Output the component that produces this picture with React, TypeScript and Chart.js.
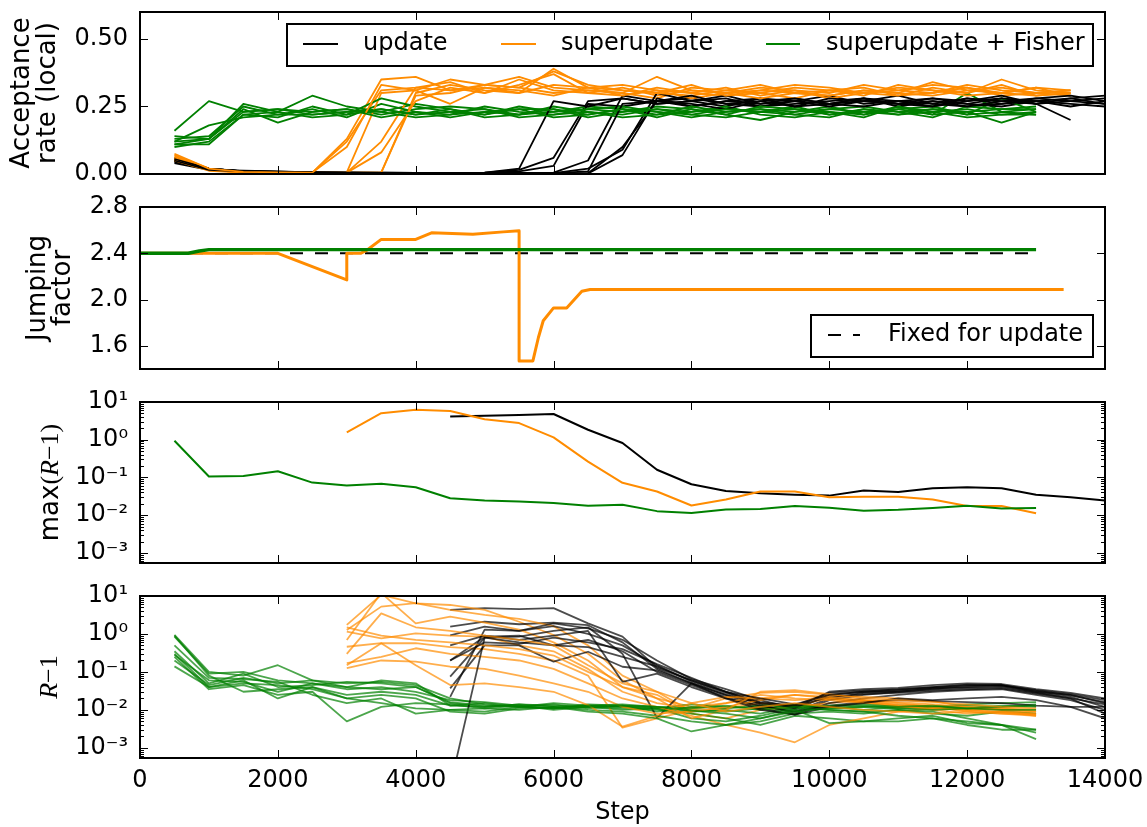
import React, { useEffect, useRef } from "react";
import { Chart, registerables } from "chart.js";

Chart.register(...registerables);

// ---------------- data ----------------
const STEPS = [500, 1000, 1500, 2000, 2500, 3000, 3500, 4000, 4500, 5000, 5500, 6000, 6500, 7000, 7500, 8000, 8500, 9000, 9500, 10000, 10500, 11000, 11500, 12000, 12500, 13000, 13500, 14000];
const X_TICKS = [0, 2000, 4000, 6000, 8000, 10000, 12000, 14000];
const ACC_TICKS = [0, 0.25, 0.5];
const JF_TICKS = [1.6, 2.0, 2.4, 2.8];
const LOG_TICKS = [0.001, 0.01, 0.1, 1, 10];

const SERIES_NAMES = ["update", "superupdate", "superupdate + Fisher"];
const FIXED_NAME = "Fixed for update";

// Panel 1: acceptance rate (local), per run, starting at step 500
const ACC_UPDATE_RUNS = [
  [0.05, 0.02, 0.01, 0.008, 0.006, 0.005, 0.005, 0.004, 0.004, 0.005, 0.015, 0.06, 0.27, 0.28, 0.26, 0.27, 0.25, 0.28, 0.27, 0.26, 0.28, 0.27, 0.25, 0.27, 0.28, 0.26, 0.27, 0.28],
  [0.04, 0.015, 0.012, 0.01, 0.006, 0.005, 0.004, 0.004, 0.003, 0.004, 0.01, 0.03, 0.26, 0.25, 0.27, 0.28, 0.26, 0.25, 0.27, 0.29, 0.26, 0.27, 0.28, 0.26, 0.25, 0.27, 0.26, 0.25],
  [0.06, 0.02, 0.01, 0.007, 0.005, 0.005, 0.004, 0.003, 0.003, 0.003, 0.004, 0.005, 0.05, 0.29, 0.27, 0.25, 0.27, 0.26, 0.28, 0.26, 0.25, 0.27, 0.26, 0.28, 0.27, 0.28, 0.27, 0.26],
  [0.05, 0.02, 0.01, 0.009, 0.006, 0.004, 0.004, 0.003, 0.003, 0.003, 0.003, 0.003, 0.02, 0.09, 0.30, 0.27, 0.28, 0.25, 0.26, 0.27, 0.28, 0.25, 0.27, 0.26, 0.28, 0.27, 0.25, 0.27],
  [0.045, 0.018, 0.01, 0.008, 0.005, 0.004, 0.004, 0.003, 0.003, 0.003, 0.002, 0.002, 0.003, 0.10, 0.27, 0.26, 0.24, 0.27, 0.28, 0.26, 0.27, 0.29, 0.26, 0.25, 0.26, 0.28, 0.29, 0.27],
  [0.05, 0.02, 0.011, 0.008, 0.006, 0.005, 0.004, 0.004, 0.003, 0.003, 0.003, 0.002, 0.002, 0.07, 0.28, 0.25, 0.27, 0.28, 0.25, 0.26, 0.28, 0.26, 0.28, 0.27, 0.29, 0.26, 0.20],
  [0.055, 0.02, 0.01, 0.008, 0.006, 0.005, 0.005, 0.004, 0.004, 0.005, 0.02, 0.27, 0.25, 0.28, 0.26, 0.27, 0.29, 0.26, 0.27, 0.25, 0.27, 0.26, 0.25, 0.28, 0.26, 0.27, 0.28, 0.29],
  [0.05, 0.015, 0.01, 0.007, 0.005, 0.004, 0.004, 0.003, 0.003, 0.003, 0.003, 0.003, 0.01, 0.26, 0.27, 0.29, 0.26, 0.27, 0.25, 0.28, 0.27, 0.26, 0.27, 0.25, 0.27, 0.26, 0.28, 0.26],
];
const ACC_SUPER_RUNS = [
  [0.07, 0.02, 0.008, 0.006, 0.005, 0.13, 0.35, 0.36, 0.31, 0.32, 0.30, 0.33, 0.32, 0.29, 0.31, 0.30, 0.32, 0.29, 0.31, 0.30, 0.33, 0.31, 0.30, 0.32, 0.29, 0.30, 0.31],
  [0.06, 0.015, 0.006, 0.005, 0.005, 0.12, 0.31, 0.32, 0.34, 0.30, 0.35, 0.31, 0.30, 0.32, 0.29, 0.31, 0.30, 0.32, 0.31, 0.28, 0.30, 0.32, 0.31, 0.30, 0.33, 0.29, 0.30],
  [0.065, 0.02, 0.007, 0.005, 0.004, 0.005, 0.12, 0.32, 0.31, 0.33, 0.36, 0.32, 0.31, 0.30, 0.28, 0.32, 0.31, 0.33, 0.30, 0.29, 0.31, 0.30, 0.34, 0.31, 0.30, 0.32, 0.29],
  [0.05, 0.015, 0.006, 0.004, 0.004, 0.004, 0.005, 0.30, 0.33, 0.31, 0.30, 0.39, 0.32, 0.31, 0.30, 0.29, 0.31, 0.30, 0.28, 0.31, 0.32, 0.29, 0.30, 0.33, 0.31, 0.30, 0.29],
  [0.06, 0.018, 0.007, 0.005, 0.005, 0.006, 0.30, 0.31, 0.26, 0.32, 0.31, 0.29, 0.32, 0.33, 0.31, 0.28, 0.30, 0.31, 0.33, 0.32, 0.30, 0.29, 0.32, 0.30, 0.35, 0.31, 0.30],
  [0.055, 0.015, 0.006, 0.005, 0.004, 0.005, 0.08, 0.27, 0.32, 0.30, 0.33, 0.37, 0.30, 0.29, 0.32, 0.30, 0.29, 0.31, 0.30, 0.31, 0.29, 0.33, 0.31, 0.29, 0.30, 0.32, 0.31],
  [0.05, 0.012, 0.005, 0.004, 0.004, 0.004, 0.006, 0.29, 0.30, 0.33, 0.32, 0.30, 0.31, 0.30, 0.36, 0.31, 0.30, 0.28, 0.30, 0.29, 0.31, 0.30, 0.29, 0.31, 0.32, 0.30, 0.31],
  [0.075, 0.02, 0.008, 0.006, 0.005, 0.10, 0.33, 0.31, 0.35, 0.33, 0.32, 0.38, 0.33, 0.31, 0.30, 0.33, 0.29, 0.30, 0.32, 0.31, 0.30, 0.31, 0.33, 0.32, 0.30, 0.29, 0.30],
];
const ACC_FISHER_RUNS = [
  [0.16, 0.27, 0.23, 0.24, 0.22, 0.23, 0.24, 0.22, 0.23, 0.24, 0.22, 0.23, 0.25, 0.24, 0.22, 0.23, 0.24, 0.23, 0.25, 0.22, 0.23, 0.24, 0.22, 0.30, 0.23, 0.24],
  [0.14, 0.13, 0.26, 0.23, 0.29, 0.25, 0.23, 0.26, 0.24, 0.22, 0.25, 0.23, 0.24, 0.25, 0.23, 0.21, 0.23, 0.24, 0.22, 0.24, 0.25, 0.23, 0.24, 0.22, 0.28, 0.23],
  [0.13, 0.14, 0.25, 0.22, 0.24, 0.21, 0.26, 0.23, 0.21, 0.23, 0.22, 0.25, 0.23, 0.22, 0.24, 0.23, 0.25, 0.22, 0.21, 0.23, 0.22, 0.25, 0.23, 0.24, 0.22, 0.22],
  [0.12, 0.13, 0.24, 0.19, 0.23, 0.24, 0.22, 0.24, 0.25, 0.24, 0.21, 0.22, 0.24, 0.23, 0.25, 0.24, 0.22, 0.20, 0.23, 0.24, 0.23, 0.22, 0.24, 0.23, 0.19, 0.23],
  [0.11, 0.11, 0.22, 0.23, 0.21, 0.22, 0.28, 0.25, 0.23, 0.22, 0.24, 0.24, 0.22, 0.24, 0.23, 0.22, 0.24, 0.23, 0.24, 0.22, 0.24, 0.23, 0.21, 0.25, 0.24, 0.24],
  [0.12, 0.18, 0.21, 0.22, 0.22, 0.23, 0.23, 0.21, 0.22, 0.25, 0.23, 0.22, 0.23, 0.21, 0.22, 0.25, 0.23, 0.24, 0.23, 0.25, 0.22, 0.24, 0.25, 0.22, 0.23, 0.22],
  [0.10, 0.12, 0.22, 0.21, 0.25, 0.22, 0.24, 0.22, 0.24, 0.21, 0.22, 0.24, 0.21, 0.23, 0.24, 0.22, 0.21, 0.23, 0.22, 0.21, 0.24, 0.22, 0.23, 0.21, 0.22, 0.23],
  [0.11, 0.13, 0.23, 0.24, 0.23, 0.24, 0.21, 0.23, 0.22, 0.23, 0.24, 0.21, 0.22, 0.24, 0.21, 0.24, 0.22, 0.25, 0.24, 0.23, 0.21, 0.25, 0.22, 0.23, 0.24, 0.25],
];

// Panel 2: jumping factor
const JF_FIXED_STEPS = [0, 13000];
const JF_FIXED_VALUES = [2.4, 2.4];
const JF_SUPER_STEPS = [0, 2000, 3000, 3000, 3200, 3300, 3500, 4000, 4230, 4830, 5270, 5500, 5500, 5700, 5780, 5850, 6000, 6190, 6410, 6530, 13400];
const JF_SUPER_VALUES = [2.4, 2.4, 2.17, 2.4, 2.4, 2.43, 2.52, 2.52, 2.577, 2.565, 2.585, 2.594, 1.47, 1.47, 1.672, 1.817, 1.928, 1.928, 2.072, 2.087, 2.087];
const JF_FISHER_STEPS = [0, 700, 860, 1000, 13000];
const JF_FISHER_VALUES = [2.4, 2.4, 2.42, 2.432, 2.432];

// Panel 3: max(R-1)
const MAXR_UPDATE = [4.1, 4.3, 4.5, 4.8, 1.84, 0.82, 0.16, 0.066, 0.044, 0.038, 0.035, 0.033, 0.045, 0.041, 0.052, 0.055, 0.052, 0.035, 0.03, 0.0246]; // from 4500
const MAXR_SUPER = [1.56, 5.06, 6.2, 5.8, 3.5, 2.76, 1.15, 0.263, 0.072, 0.0425, 0.0181, 0.026, 0.0425, 0.0425, 0.030, 0.031, 0.031, 0.026, 0.0174, 0.0174, 0.0112]; // from 3000
const MAXR_FISHER = [0.94, 0.106, 0.11, 0.146, 0.073, 0.061, 0.068, 0.055, 0.028, 0.0246, 0.023, 0.021, 0.0178, 0.0188, 0.0128, 0.0114, 0.0142, 0.0145, 0.0174, 0.0158, 0.0132, 0.0139, 0.0154, 0.0178, 0.0151, 0.0154]; // from 500

// Panel 4: R-1 per parameter
const R_UPDATE_RUNS = [
  [4.3, 4.8, 4.5, 4.8, 1.9, 0.85, 0.13, 0.06, 0.03, 0.015, 0.01, 0.025, 0.03, 0.035, 0.04, 0.045, 0.045, 0.03, 0.025, 0.015],
  [1.56, 2.1, 1.8, 2.0, 1.7, 0.6, 0.12, 0.05, 0.025, 0.012, 0.009, 0.02, 0.028, 0.032, 0.038, 0.04, 0.042, 0.03, 0.022, 0.012],
  [0.92, 1.56, 1.2, 1.6, 1.0, 0.5, 0.15, 0.055, 0.028, 0.014, 0.008, 0.018, 0.025, 0.03, 0.035, 0.038, 0.04, 0.028, 0.02, 0.014],
  [0.2, 0.85, 0.9, 0.5, 0.7, 0.35, 0.1, 0.045, 0.022, 0.011, 0.0075, 0.015, 0.02, 0.025, 0.03, 0.033, 0.035, 0.025, 0.018, 0.01],
  [0.075, 0.8, 0.85, 1.2, 1.5, 0.3, 0.0062, 0.05, 0.02, 0.013, 0.009, 0.013, 0.016, 0.018, 0.017, 0.016, 0.015, 0.013, 0.012, 0.012],
  [0.037, 0.5, 0.5, 0.186, 0.34, 0.137, 0.11, 0.05, 0.025, 0.015, 0.012, 0.022, 0.026, 0.028, 0.032, 0.035, 0.037, 0.027, 0.02, 0.008],
  [0.022, 1.3, 1.2, 1.9, 1.4, 0.7, 0.2, 0.065, 0.035, 0.018, 0.011, 0.03, 0.035, 0.038, 0.045, 0.05, 0.048, 0.035, 0.028, 0.02],
  [0.0001, 0.8, 0.6, 0.5, 0.45, 0.25, 0.14, 0.06, 0.03, 0.016, 0.013, 0.028, 0.032, 0.034, 0.04, 0.046, 0.044, 0.033, 0.026, 0.018],
  [0.5, 0.9, 0.7, 0.9, 1.2, 0.055, 0.09, 0.04, 0.02, 0.01, 0.0075, 0.012, 0.015, 0.02, 0.018, 0.02, 0.022, 0.018, 0.012, 0.006],
  [0.2, 0.6, 0.55, 0.8, 0.6, 0.4, 0.16, 0.07, 0.03, 0.02, 0.014, 0.025, 0.03, 0.03, 0.036, 0.042, 0.045, 0.032, 0.024, 0.016],
];
const R_SUPER_RUNS = [
  [1.73, 10.7, 6.4, 5.8, 4.3, 2.1, 0.94, 0.3, 0.06, 0.02, 0.012, 0.015, 0.02, 0.025, 0.02, 0.018, 0.015, 0.012, 0.01, 0.011, 0.009],
  [1.27, 5.25, 6.5, 4.3, 3.2, 2.5, 1.6, 0.5, 0.08, 0.03, 0.009, 0.011, 0.015, 0.013, 0.02, 0.016, 0.014, 0.013, 0.011, 0.01, 0.008],
  [0.69, 12, 1.9, 2.86, 2.0, 1.3, 0.6, 0.2, 0.04, 0.025, 0.008, 0.006, 0.01, 0.012, 0.015, 0.018, 0.013, 0.012, 0.009, 0.008, 0.007],
  [1.15, 0.77, 1.04, 0.9, 0.85, 0.5, 0.35, 0.12, 0.03, 0.015, 0.011, 0.02, 0.028, 0.03, 0.025, 0.022, 0.02, 0.017, 0.012, 0.01, 0.009],
  [0.46, 0.57, 0.57, 0.45, 0.4, 0.3, 0.2, 0.08, 0.0034, 0.006, 0.01, 0.015, 0.025, 0.02, 0.018, 0.015, 0.013, 0.01, 0.008, 0.009, 0.008],
  [0.17, 0.25, 0.42, 0.3, 0.25, 0.2, 0.12, 0.05, 0.02, 0.012, 0.007, 0.004, 0.0025, 0.0014, 0.004, 0.006, 0.009, 0.011, 0.01, 0.009, 0.007],
  [0.125, 0.2, 0.186, 0.137, 0.12, 0.08, 0.05, 0.03, 0.012, 0.008, 0.009, 0.012, 0.018, 0.025, 0.022, 0.018, 0.016, 0.014, 0.012, 0.011, 0.010],
  [0.15, 0.57, 0.15, 0.045, 0.05, 0.04, 0.03, 0.0134, 0.0036, 0.007, 0.015, 0.022, 0.02, 0.018, 0.02, 0.016, 0.012, 0.011, 0.01, 0.0085, 0.0075],
  [1.5, 0.9, 0.7, 0.6, 0.5, 0.4, 0.27, 0.1, 0.04, 0.02, 0.006, 0.01, 0.03, 0.033, 0.026, 0.02, 0.018, 0.016, 0.014, 0.012, 0.011],
  [0.3, 3.5, 1.5, 1.2, 0.9, 0.7, 0.5, 0.15, 0.05, 0.03, 0.015, 0.009, 0.012, 0.015, 0.012, 0.01, 0.009, 0.008, 0.009, 0.008, 0.0075],
];
const R_FISHER_RUNS = [
  [0.94, 0.10, 0.08, 0.15, 0.06, 0.05, 0.055, 0.045, 0.02, 0.014, 0.012, 0.015, 0.013, 0.012, 0.011, 0.014, 0.012, 0.011, 0.013, 0.012, 0.010, 0.012, 0.011, 0.013, 0.012, 0.014],
  [0.85, 0.09, 0.1, 0.06, 0.05, 0.035, 0.04, 0.03, 0.018, 0.016, 0.013, 0.011, 0.014, 0.013, 0.012, 0.010, 0.009, 0.011, 0.013, 0.011, 0.012, 0.013, 0.012, 0.011, 0.013, 0.012],
  [0.35, 0.05, 0.09, 0.04, 0.045, 0.055, 0.05, 0.04, 0.015, 0.012, 0.014, 0.013, 0.012, 0.010, 0.011, 0.009, 0.010, 0.008, 0.012, 0.010, 0.009, 0.010, 0.008, 0.007, 0.009, 0.008],
  [0.30, 0.04, 0.06, 0.02, 0.04, 0.025, 0.03, 0.025, 0.013, 0.015, 0.012, 0.014, 0.011, 0.013, 0.009, 0.012, 0.011, 0.013, 0.014, 0.012, 0.013, 0.011, 0.012, 0.014, 0.015, 0.016],
  [0.25, 0.035, 0.045, 0.025, 0.03, 0.005, 0.012, 0.015, 0.014, 0.011, 0.013, 0.010, 0.012, 0.011, 0.010, 0.008, 0.006, 0.004, 0.007, 0.006, 0.005, 0.005, 0.006, 0.004, 0.003, 0.003],
  [0.20, 0.045, 0.07, 0.05, 0.06, 0.04, 0.06, 0.05, 0.013, 0.012, 0.014, 0.012, 0.013, 0.012, 0.011, 0.006, 0.005, 0.007, 0.011, 0.010, 0.009, 0.007, 0.006, 0.005, 0.004, 0.0025],
  [0.14, 0.04, 0.05, 0.045, 0.035, 0.02, 0.025, 0.02, 0.009, 0.008, 0.011, 0.012, 0.010, 0.009, 0.007, 0.005, 0.004, 0.005, 0.008, 0.009, 0.008, 0.010, 0.009, 0.006, 0.004, 0.0017],
  [0.28, 0.06, 0.055, 0.03, 0.05, 0.04, 0.035, 0.04, 0.016, 0.013, 0.012, 0.011, 0.013, 0.014, 0.012, 0.011, 0.013, 0.010, 0.012, 0.013, 0.014, 0.012, 0.013, 0.011, 0.012, 0.013],
  [0.9, 0.08, 0.03, 0.035, 0.04, 0.02, 0.015, 0.011, 0.01, 0.009, 0.012, 0.011, 0.012, 0.013, 0.012, 0.0095, 0.008, 0.006, 0.009, 0.011, 0.012, 0.011, 0.010, 0.011, 0.010, 0.010],
  [0.5, 0.07, 0.065, 0.055, 0.025, 0.015, 0.02, 0.008, 0.01, 0.011, 0.01, 0.012, 0.009, 0.008, 0.006, 0.0027, 0.004, 0.006, 0.01, 0.0045, 0.005, 0.006, 0.007, 0.0045, 0.004, 0.003],
];

// ---------------- styling ----------------
const SANS = "'DejaVu Sans', 'Bitstream Vera Sans', sans-serif";
const SERIF = "'Liberation Serif', 'DejaVu Serif', serif";
const FS = 24; // tick labels and legend
const FL = 26; // axis labels
const BLACK = "#000000";
const ORANGE = "#ff8c00";
const GREEN = "#008000";
const BLACK_A = "rgba(0,0,0,0.7)";
const ORANGE_A = "rgba(255,140,0,0.7)";
const GREEN_A = "rgba(0,128,0,0.7)";

const PANELS = [
  { top: 12, bottom: 174 },
  { top: 207, bottom: 369 },
  { top: 402, bottom: 563 },
  { top: 596, bottom: 758 },
];
const PLOT_LEFT = 140;
const PLOT_RIGHT = 1105;
const W = 1147;
const H = 827;

function series(start: number, values: number[]) {
  const i0 = STEPS.indexOf(start);
  return values.map((v, i) => ({ x: STEPS[i0 + i], y: v }));
}
function xy(xs: number[], ys: number[]) {
  return xs.map((x, i) => ({ x, y: ys[i] }));
}
function ds(data: any[], color: string, width: number, extra: any = {}) {
  return {
    data,
    borderColor: color,
    backgroundColor: color,
    borderWidth: width,
    pointRadius: 0,
    pointHoverRadius: 0,
    fill: false,
    tension: 0,
    borderJoinStyle: "round",
    borderCapStyle: "butt",
    ...extra,
  };
}
function withOrder(list: any[]) {
  return list.map((d, k) => ({ ...d, order: -k }));
}

const SUP: Record<string, string> = { "-": "\u207B", "0": "\u2070", "1": "\u00B9", "2": "\u00B2", "3": "\u00B3", "4": "\u2074" };
function logLabel(v: number) {
  const e = Math.round(Math.log10(v));
  return "10" + String(e).split("").map((c) => SUP[c]).join("");
}

// ---------------- plugins ----------------
function framePlugin(logY: boolean) {
  return {
    id: "frame",
    afterDatasetsDraw(chart: any) {
      const { ctx, chartArea: a } = chart;
      const xs = chart.scales.x;
      const ys = chart.scales.y;
      ctx.save();
      ctx.strokeStyle = "#000";
      ctx.lineWidth = 1;
      ctx.beginPath();
      const L = 8;
      const M = 4;
      for (const t of xs.ticks) {
        const p = Math.round(xs.getPixelForValue(t.value)) + 0.5;
        ctx.moveTo(p, a.bottom);
        ctx.lineTo(p, a.bottom - L);
        ctx.moveTo(p, a.top);
        ctx.lineTo(p, a.top + L);
      }
      for (const t of ys.ticks) {
        const p = Math.round(ys.getPixelForValue(t.value)) + 0.5;
        ctx.moveTo(a.left, p);
        ctx.lineTo(a.left + L, p);
        ctx.moveTo(a.right, p);
        ctx.lineTo(a.right - L, p);
      }
      if (logY) {
        for (let e = -4; e <= 1; e++) {
          for (let m = 2; m <= 9; m++) {
            const v = m * Math.pow(10, e);
            if (v < ys.min || v > ys.max) continue;
            const p = Math.round(ys.getPixelForValue(v)) + 0.5;
            ctx.moveTo(a.left, p);
            ctx.lineTo(a.left + M, p);
            ctx.moveTo(a.right, p);
            ctx.lineTo(a.right - M, p);
          }
        }
      }
      ctx.stroke();
      ctx.lineWidth = 2;
      ctx.strokeRect(a.left, a.top, a.right - a.left, a.bottom - a.top);
      ctx.restore();
    },
  };
}

type Seg = { t: string; f: string };
function ylabelPlugin(lines: { x: number; segs: Seg[] }[]) {
  return {
    id: "ylab",
    afterDraw(chart: any) {
      const { ctx, chartArea: a } = chart;
      const cy = (a.top + a.bottom) / 2;
      ctx.save();
      ctx.fillStyle = "#000";
      ctx.textBaseline = "alphabetic";
      ctx.textAlign = "left";
      for (const line of lines) {
        let total = 0;
        for (const s of line.segs) {
          ctx.font = s.f;
          total += ctx.measureText(s.t).width;
        }
        ctx.save();
        ctx.translate(line.x, cy);
        ctx.rotate(-Math.PI / 2);
        let x = -total / 2;
        for (const s of line.segs) {
          ctx.font = s.f;
          ctx.fillText(s.t, x, 0);
          x += ctx.measureText(s.t).width;
        }
        ctx.restore();
      }
      ctx.restore();
    },
  };
}

type LegItem = { x1: number; x2: number; color: string; dash?: number[]; width: number; text: string; tx: number };
function legendPlugin(box: { x1: number; y1: number; x2: number; y2: number }, y: number, items: LegItem[]) {
  return {
    id: "leg",
    afterDraw(chart: any) {
      const { ctx } = chart;
      ctx.save();
      ctx.fillStyle = "#fff";
      ctx.fillRect(box.x1, box.y1, box.x2 - box.x1, box.y2 - box.y1);
      ctx.strokeStyle = "#000";
      ctx.lineWidth = 2;
      ctx.strokeRect(box.x1, box.y1, box.x2 - box.x1, box.y2 - box.y1);
      for (const it of items) {
        ctx.beginPath();
        ctx.strokeStyle = it.color;
        ctx.lineWidth = it.width;
        ctx.setLineDash(it.dash || []);
        ctx.moveTo(it.x1, y);
        ctx.lineTo(it.x2, y);
        ctx.stroke();
        ctx.setLineDash([]);
        ctx.fillStyle = "#000";
        ctx.font = `${FS}px ${SANS}`;
        ctx.textBaseline = "middle";
        ctx.textAlign = "left";
        ctx.fillText(it.text, it.tx, y);
      }
      ctx.restore();
    },
  };
}

// ---------------- scales ----------------
function xScale(showLabels: boolean) {
  return {
    type: "linear",
    min: 0,
    max: 14000,
    afterBuildTicks: (s: any) => {
      s.ticks = X_TICKS.map((v) => ({ value: v }));
    },
    afterFit: (s: any) => {
      s.height = showLabels ? H - PANELS[3].bottom : 12;
      s.paddingLeft = 0;
      s.paddingRight = 0;
    },
    grid: { display: false, drawTicks: false },
    border: { display: false },
    ticks: {
      display: showLabels,
      autoSkip: false,
      maxRotation: 0,
      padding: 8,
      color: "#000",
      font: { family: SANS, size: FS },
      callback: (v: any) => String(v),
    },
    title: {
      display: showLabels,
      text: "Step",
      color: "#000",
      font: { family: SANS, size: FS },
      padding: { top: 0, bottom: 0 },
    },
  };
}
function yScale(kind: "acc" | "jf" | "log") {
  const base: any = {
    afterFit: (s: any) => {
      s.width = PLOT_LEFT;
      s.paddingTop = 0;
      s.paddingBottom = 0;
    },
    grid: { display: false, drawTicks: false },
    border: { display: false },
    ticks: { autoSkip: false, padding: 12, color: "#000", font: { family: SANS, size: FS } },
  };
  if (kind === "acc") {
    return {
      ...base,
      type: "linear",
      min: 0,
      max: 0.6,
      afterBuildTicks: (s: any) => {
        s.ticks = ACC_TICKS.map((v) => ({ value: v }));
      },
      ticks: { ...base.ticks, callback: (v: any) => Number(v).toFixed(2) },
    };
  }
  if (kind === "jf") {
    return {
      ...base,
      type: "linear",
      min: 1.4,
      max: 2.8,
      afterBuildTicks: (s: any) => {
        s.ticks = JF_TICKS.map((v) => ({ value: v }));
      },
      ticks: { ...base.ticks, callback: (v: any) => Number(v).toFixed(1) },
    };
  }
  return {
    ...base,
    type: "logarithmic",
    min: 5.4e-4,
    max: 10,
    afterBuildTicks: (s: any) => {
      s.ticks = LOG_TICKS.map((v) => ({ value: v }));
    },
    ticks: { ...base.ticks, callback: (v: any) => logLabel(Number(v)) },
  };
}

function canvasGeom(i: number) {
  const p = PANELS[i];
  if (i === 3) return { top: p.top - 12, height: H - (p.top - 12) };
  return { top: p.top - 12, height: p.bottom - p.top + 24 };
}

// ---------------- datasets ----------------
function panel1Datasets() {
  const list: any[] = [];
  for (let i = 0; i < 8; i++) {
    list.push(ds(series(500, ACC_UPDATE_RUNS[i]), BLACK, 1.8));
    list.push(ds(series(500, ACC_SUPER_RUNS[i]), ORANGE, 1.8));
    list.push(ds(series(500, ACC_FISHER_RUNS[i]), GREEN, 1.8));
  }
  return withOrder(list);
}
function panel2Datasets() {
  return withOrder([
    ds(xy(JF_FIXED_STEPS, JF_FIXED_VALUES), BLACK, 2, { borderDash: [13, 12] }),
    ds(xy(JF_SUPER_STEPS, JF_SUPER_VALUES), ORANGE, 3),
    ds(xy(JF_FISHER_STEPS, JF_FISHER_VALUES), GREEN, 3.4),
  ]);
}
function panel3Datasets() {
  return withOrder([
    ds(series(4500, MAXR_UPDATE), BLACK, 2),
    ds(series(3000, MAXR_SUPER), ORANGE, 2),
    ds(series(500, MAXR_FISHER), GREEN, 2),
  ]);
}
function panel4Datasets() {
  const list: any[] = [];
  for (let i = 0; i < 10; i++) {
    list.push(ds(series(4500, R_UPDATE_RUNS[i]), BLACK_A, 1.8));
    list.push(ds(series(3000, R_SUPER_RUNS[i]), ORANGE_A, 1.8));
    list.push(ds(series(500, R_FISHER_RUNS[i]), GREEN_A, 1.8));
  }
  return withOrder(list);
}

function makeConfig(i: number): any {
  const g = canvasGeom(i);
  const datasets = [panel1Datasets, panel2Datasets, panel3Datasets, panel4Datasets][i]();
  const kind = i === 0 ? "acc" : i === 1 ? "jf" : "log";
  const sansF = `${FL}px ${SANS}`;
  const serifF = `${FL}px ${SERIF}`;
  const serifI = `italic ${FL}px ${SERIF}`;
  const labelLines = [
    [
      { x: 29, segs: [{ t: "Acceptance", f: sansF }] },
      { x: 55, segs: [{ t: "rate (local)", f: sansF }] },
    ],
    [
      { x: 45, segs: [{ t: "Jumping", f: sansF }] },
      { x: 70, segs: [{ t: "factor", f: sansF }] },
    ],
    [
      {
        x: 58,
        segs: [
          { t: "max", f: sansF },
          { t: "(", f: serifF },
          { t: "R", f: serifI },
          { t: "\u2212", f: serifF },
          { t: "1)", f: serifF },
        ],
      },
    ],
    [
      {
        x: 57,
        segs: [
          { t: "R", f: serifI },
          { t: "\u2212", f: serifF },
          { t: "1", f: serifF },
        ],
      },
    ],
  ][i];
  const plugins: any[] = [framePlugin(kind === "log"), ylabelPlugin(labelLines)];
  if (i === 0) {
    plugins.push(
      legendPlugin({ x1: 287, y1: 24 - g.top, x2: 1093, y2: 66 - g.top }, 44 - g.top, [
        { x1: 303, x2: 338, color: BLACK, width: 2, text: SERIES_NAMES[0], tx: 363 },
        { x1: 501, x2: 536, color: ORANGE, width: 2, text: SERIES_NAMES[1], tx: 561 },
        { x1: 766, x2: 800, color: GREEN, width: 2, text: SERIES_NAMES[2], tx: 826 },
      ])
    );
  }
  if (i === 1) {
    plugins.push(
      legendPlugin({ x1: 811, y1: 315 - g.top, x2: 1093, y2: 357 - g.top }, 335 - g.top, [
        { x1: 828, x2: 860, color: BLACK, width: 2, dash: [13, 12], text: FIXED_NAME, tx: 888 },
      ])
    );
  }
  return {
    type: "line",
    data: { datasets },
    options: {
      responsive: false,
      maintainAspectRatio: false,
      animation: false,
      devicePixelRatio: 1,
      events: [],
      layout: { padding: { left: 0, right: W - PLOT_RIGHT, top: 12, bottom: 0 } },
      plugins: { legend: { display: false }, tooltip: { enabled: false } },
      scales: { x: xScale(i === 3), y: yScale(kind as any) },
    },
    plugins,
  };
}

export default function App() {
  const r0 = useRef<HTMLCanvasElement>(null);
  const r1 = useRef<HTMLCanvasElement>(null);
  const r2 = useRef<HTMLCanvasElement>(null);
  const r3 = useRef<HTMLCanvasElement>(null);
  const refs = [r0, r1, r2, r3];

  useEffect(() => {
    const charts = refs.map((r, i) => new Chart(r.current as HTMLCanvasElement, makeConfig(i)));
    return () => charts.forEach((c) => c.destroy());
  }, []);

  return (
    <div style={{ position: "absolute", left: 0, top: 0, width: W, height: H, background: "#fff", overflow: "hidden" }}>
      {PANELS.map((_, i) => {
        const g = canvasGeom(i);
        return (
          <canvas
            key={i}
            ref={refs[i]}
            width={W}
            height={g.height}
            style={{ position: "absolute", left: 0, top: g.top, width: W, height: g.height }}
          />
        );
      })}
    </div>
  );
}
